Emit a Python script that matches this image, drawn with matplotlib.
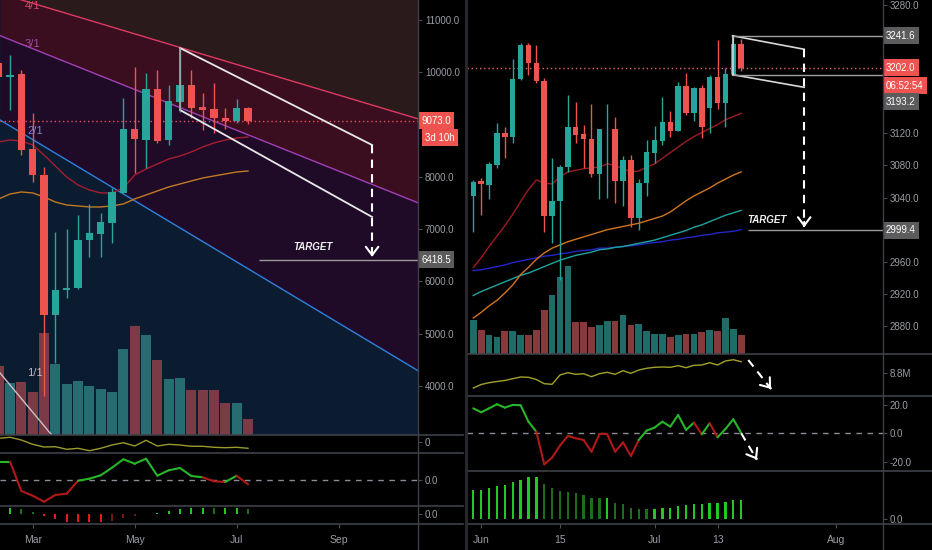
import numpy as np
import matplotlib
matplotlib.use("Agg")
import matplotlib.pyplot as plt
import matplotlib.transforms as mtransforms
from matplotlib.collections import LineCollection
from matplotlib.lines import Line2D

plt.rcParams['font.family'] = ['Liberation Sans', 'DejaVu Sans']

# ---------------- left chart : weekly candles ----------------
l_open = [10178, 9917, 9967, 8533, 8036, 5358, 5836, 5880, 6793, 6907, 7118, 7692,
          8916, 8705, 9680, 8705, 9432, 9757, 9336, 9298, 9126, 9068, 9317]
l_high = [10400, 10331, 10044, 9221, 8180, 6946, 7000, 7270, 7481, 7309, 7787, 9508,
          10101, 9986, 10044, 9757, 10464, 10044, 9604, 9795, 9317, 9489, 9336]
l_low = [9700, 9279, 8418, 7900, 3800, 4441, 5680, 5860, 6468, 6468, 6735, 7692,
         8074, 8170, 8648, 8610, 9241, 9126, 8896, 8839, 8915, 9030, 9010]
l_close = [9910, 9950, 8514, 8036, 5358, 5836, 5880, 6793, 6927, 7137, 7711, 8916,
           8724, 9680, 8686, 9451, 9757, 9317, 9279, 9126, 9068, 9317, 9073]
l_vol = [69, 52, 53, 43, 102, 71, 51, 54, 49, 46, 43, 86, 109, 100, 75, 56, 57, 45, 45, 45, 32, 32, 16]
l_ma_red = [8667, 8705, 8686, 8610, 8418, 8208, 7997, 7845, 7749, 7692, 7692, 7787,
            8036, 8150, 8246, 8342, 8399, 8476, 8571, 8648, 8705, 8743, 8762]
l_ma_orange = [7577, 7672, 7711, 7692, 7615, 7519, 7462, 7443, 7424, 7424, 7443, 7481,
               7577, 7653, 7730, 7806, 7864, 7921, 7978, 8017, 8055, 8093, 8112]
l_line1 = [3.4, 4.4, 1.7, -2.6, -5.3, -5.0, -7.6, -6.6, -9.0, -6.6, -3.3, -1.0,
           -4.3, 1.4, -4.3, -2.6, -3.3, -4.6, -4.6, -5.6, -6.0, -5.6, -6.6]
l_osc = [18.3, 18.3, -11, -15.7, -21.7, -15, -13.7, -0.7, 1.3, 4.7, 12.3, 20.7,
         16.3, 21.3, 4.3, 9.7, 12, 4, 2.7, -1.3, -2, 4.3, -4.3]
l_hist = [6, 6, 5, 2.7, -1.7, -4.7, -7.3, -7.3, -7.3, -8, -6.7, -4, -2, 0, 1, 3.3,
          5, 6, 6.7, 6, 6, 6.7, 5.7]
l_xticks = [3, 12, 21, 30]
l_xlabels = ['Mar', 'May', 'Jul', 'Sep']
l_yticks = [4000, 5000, 6000, 7000, 8000, 10000, 11000]
l_last = 9073.0
l_target = 6418.5
l_countdown = '3d 10h'
# gann fan: origin (bar, price), price per bar of the 1x1 line, ratios
fan_origin = (-37.1, 13926)
fan_unit = 260
fan_ratios = [4, 3, 2, 1]
fan_labels = ['4/1', '3/1', '2/1', '1/1']
fan_label_pos = [(2.3, 11370), (2.3, 10540), (2.5, 8880), (2.5, 4250)]
# drawn channel + target
l_chan_up = [(16, 10464), (32.95, 8609)]
l_chan_dn = [(16, 9279), (32.95, 7233)]
l_arrow = [(32.95, 8609), (32.95, 6470)]
l_target_from = 23.0
l_target_text = (27.7, 6660)

# ---------------- right chart : daily candles ----------------
r_open = [3042.0, 3060.7, 3055.7, 3080.6, 3120.9, 3115.9, 3187.8, 3230.2, 3207.3, 3185.7,
          3017.1, 3036.2, 3077.7, 3127.6, 3118.8, 3113.0, 3069.4, 3125.1, 3125.1, 3061.1,
          3086.9, 3014.2, 3057.8, 3096.0, 3111.0, 3134.6, 3123.4, 3179.5, 3145.8, 3176.2,
          3151.2, 3189.9, 3158.3, 3194.0, 3231.4]
r_high = [3062.0, 3064.0, 3084.8, 3132.5, 3128.4, 3212.7, 3233.1, 3233.1, 3230.2, 3188.6,
          3088.9, 3080.6, 3167.9, 3159.5, 3130.5, 3156.6, 3125.1, 3156.6, 3140.0, 3091.8,
          3093.1, 3062.8, 3111.8, 3129.2, 3165.8, 3148.3, 3184.5, 3194.9, 3177.4, 3180.3,
          3192.8, 3236.4, 3201.1, 3242.6, 3237.2]
r_low = [2997.6, 3018.3, 3037.8, 3076.5, 3089.0, 3108.5, 3186.5, 3192.8, 3182.4, 2997.6,
         2983.0, 2937.3, 3072.3, 3107.6, 3076.5, 3066.0, 3037.9, 3039.1, 3032.8, 3029.5,
         3003.8, 2999.6, 3042.0, 3082.7, 3105.5, 3115.1, 3123.4, 3143.0, 3135.9, 3113.9,
         3120.9, 3150.0, 3128.4, 3192.8, 3198.2]
r_close = [3059.9, 3056.5, 3081.5, 3120.9, 3115.9, 3187.8, 3230.2, 3207.3, 3185.7, 3017.1,
           3036.2, 3078.5, 3127.6, 3118.0, 3112.6, 3069.4, 3125.1, 3125.8, 3061.1, 3086.9,
           3014.2, 3057.8, 3097.2, 3111.8, 3134.6, 3123.4, 3179.5, 3145.8, 3176.2, 3128.4,
           3189.9, 3158.3, 3194.0, 3231.4, 3202.0]
r_vol = [34.3, 24.3, 18.6, 17, 23.3, 23.3, 18.6, 18.6, 24.3, 44.3, 59.3, 76.6, 87.6, 32,
         32, 27, 28.6, 33.3, 33.3, 38.6, 29.3, 30.3, 22.6, 20.3, 20.3, 16.6, 19.3, 20, 20,
         21.6, 24.3, 22.6, 36, 25.3, 19]
r_ma_red = [2953, 2965, 2979, 2992, 3005, 3019, 3035, 3050, 3062, 3058, 3057, 3066, 3072,
            3074, 3076, 3077, 3078, 3082, 3080, 3076, 3072, 3073, 3078, 3082, 3089, 3096,
            3103, 3110, 3116, 3121, 3126, 3131, 3137, 3141, 3145]
r_ma_orange = [2890, 2897, 2905, 2912, 2921, 2931, 2944, 2953, 2963, 2971, 2977, 2981,
               2985, 2988, 2991, 2994, 2997, 3000, 3002, 3004, 3006, 3008, 3011, 3014,
               3017, 3022, 3029, 3036, 3042, 3047, 3052, 3058, 3063, 3068, 3072]
r_ma_teal = [2918, 2923, 2927, 2931, 2935, 2939, 2943, 2946, 2950, 2954, 2958, 2962, 2965,
             2968, 2970, 2972, 2975, 2976, 2978, 2979, 2981, 2983, 2985, 2987, 2990, 2993,
             2996, 2999, 3003, 3006, 3010, 3014, 3018, 3021, 3024]
r_ma_blue = [2949, 2950, 2952, 2954, 2956, 2959, 2961, 2963, 2965, 2967, 2968, 2970, 2971,
             2973, 2974, 2975, 2977, 2977, 2978, 2979, 2980, 2981, 2983, 2984, 2985, 2987,
             2988, 2990, 2991, 2993, 2994, 2996, 2997, 2998, 3000]
r_line1 = [7.33, 7.68, 7.86, 7.98, 8.08, 8.26, 8.43, 8.40, 8.18, 7.76, 7.70, 8.63, 8.86,
           8.70, 8.76, 8.46, 8.76, 8.90, 8.70, 9.06, 8.80, 9.13, 9.30, 9.40, 9.43, 9.40,
           9.56, 9.36, 9.60, 9.63, 9.86, 9.63, 10.03, 10.16, 9.96]
r_osc = [17.6, 14.8, 17.6, 20.5, 18.1, 20.0, 19.8, 8.2, 1.1, -21.9, -17.2, -8.7, -1.9,
         -3.5, -4.7, -13.0, -0.7, -0.7, -13.0, -6.4, -16.0, -4.7, 1.9, 4.0, 8.2, 4.7,
         12.9, 2.4, 7.5, -0.7, 7.1, -2.8, 3.0, 9.9, 0.2]
r_hist = [29, 29, 30.7, 33.3, 34, 36.7, 39, 42.3, 42.3, 35, 30.7, 28, 26.7, 25.7, 24,
          21.3, 20.7, 20.7, 16.3, 14.7, 11.3, 10.3, 10.0, 10.2, 11.3, 11.5, 13.3, 14,
          15.3, 15.3, 16, 16, 17.3, 18.7, 18.7]
r_xticks = [1, 11, 23, 31, 46]
r_xlabels = ['Jun', '15', 'Jul', '13', 'Aug']
r_yticks = [2880, 2920, 2960, 3040, 3080, 3120, 3280]
r_last = 3202.0
r_countdown = '06:52:54'
r_chan_up = [(32.9, 3241.6), (42.0, 3224.8)]
r_chan_dn = [(32.9, 3193.2), (42.0, 3177.4)]
r_arrow = [(42.0, 3224.8), (42.0, 3003)]
r_target = 2999.4
r_target_from = 34.9
r_target_text = (37.3, 3012)
r_arrow1 = [(34.9, 10.13), (37.8, 7.23)]
r_arrow2 = [(34.0, 0.0), (36.0, -18.6)]

# ---------------- style ----------------
UP, DN = '#26a69a', '#ef5350'
TXT = '#9a9da5'
GRID = '#3e4049'
W, H = 932, 550

fig = plt.figure(figsize=(W / 100, H / 100), dpi=100, facecolor='black')


def add_ax(x0, y0, x1, y1):
    return fig.add_axes([x0 / W, 1 - y1 / H, (x1 - x0) / W, (y1 - y0) / H])


def style(ax, xlim, ylim, yticks, ylabels, face='black'):
    ax.set_facecolor(face)
    ax.set_xlim(xlim)
    ax.set_ylim(ylim)
    for s in ax.spines.values():
        s.set_visible(False)
    ax.yaxis.tick_right()
    ax.set_yticks(yticks)
    ax.set_yticklabels(ylabels)
    ax.tick_params(axis='y', length=3, width=0.8, color='#4a4d55', labelcolor=TXT,
                   labelsize=7, pad=2)
    ax.tick_params(axis='x', bottom=False, labelbottom=False)


def bottom_ticks(ax, ticks, labels):
    ax.set_xticks(ticks)
    ax.set_xticklabels(labels)
    ax.tick_params(axis='x', bottom=True, labelbottom=True, length=3, width=0.8,
                   color='#4a4d55', labelcolor=TXT, labelsize=7.5, pad=5)


def candles(ax, o, h, l, c, width):
    o, h, l, c = map(np.asarray, (o, h, l, c))
    x = np.arange(len(o))
    cols = np.where(c >= o, UP, DN)
    ax.vlines(x, l, h, colors=cols, lw=1, zorder=5)
    body = np.maximum(np.abs(c - o), (h.max() - l.min()) * 0.002)
    ax.bar(x, body, bottom=np.minimum(o, c), width=width, color=cols, zorder=6)


def volume(ax, o, c, vol, span, width, up, dn):
    trans = mtransforms.blended_transform_factory(ax.transData, ax.transAxes)
    cols = [up if cc >= oo else dn for oo, cc in zip(o, c)]
    ax.bar(np.arange(len(vol)), np.asarray(vol) / span, width=width, bottom=0,
           color=cols, transform=trans, zorder=2)


def sign_line(ax, vals, up, dn, lw=1.5):
    y = np.asarray(vals, float)
    x = np.arange(len(y))
    segs = np.stack([np.column_stack([x[:-1], y[:-1]]), np.column_stack([x[1:], y[1:]])], axis=1)
    cols = [up if v >= 0 else dn for v in y[1:]]
    ax.add_collection(LineCollection(segs, colors=cols, linewidths=lw, capstyle='round', zorder=3))


def hist_bars(ax, vals, width):
    cols = []
    for k, v in enumerate(vals):
        prev = vals[k - 1] if k else v
        if v >= 0:
            cols.append('#22c922' if v >= prev else '#1c6e1c')
        else:
            cols.append('#e01b1b' if v <= prev else '#7a1515')
    ax.bar(np.arange(len(vals)), vals, width=width, color=cols, zorder=3)


def tag(ax, value, text, fc, dx=3, dy=0):
    ax.annotate(text, xy=(1, value), xycoords=('axes fraction', 'data'),
                xytext=(dx, dy), textcoords='offset pixels', ha='left', va='center',
                fontsize=7, color='white', zorder=20, annotation_clip=False,
                bbox=dict(boxstyle='square,pad=0.35', fc=fc, ec='none'))


def dashed_arrow(ax, start, tip):
    ax.plot([start[0], tip[0]], [start[1], tip[1]], color='white', lw=1.5,
            ls=(0, (4, 3)), zorder=9, clip_on=False)
    pre = (tip[0] - (tip[0] - start[0]) * 0.03, tip[1] - (tip[1] - start[1]) * 0.03)
    ax.annotate('', xy=tip, xytext=pre, annotation_clip=False, zorder=9,
                arrowprops=dict(arrowstyle='->,head_length=0.6,head_width=0.45',
                                color='white', lw=1.5, shrinkA=0, shrinkB=0))


# ================= LEFT =================
l_xlim = (0.117, 37.0)
l_ylim = (3063, 11382)
axL = add_ax(0, 0, 418, 435)
style(axL, l_xlim, l_ylim, l_yticks, ['%.1f' % v for v in l_yticks], face='#0b1b30')

# gann fan backgrounds + lines
fx = np.array(l_xlim)
fan = [fan_origin[1] - fan_unit / r * (fx - fan_origin[0]) for r in fan_ratios]
axL.fill_between(fx, fan[0], l_ylim[1] + 5000, color='#2b1a1c', zorder=0.5, lw=0)
axL.fill_between(fx, fan[1], fan[0], color='#3a0e1e', zorder=0.5, lw=0)
axL.fill_between(fx, fan[2], fan[1], color='#1f0b28', zorder=0.5, lw=0)
fan_cols = ['#dc3a62', '#a23fb4', '#2f7fdc', '#d0c0c8']
for line, col in zip(fan, fan_cols):
    axL.plot(fx, line, color=col, lw=1, zorder=3)
for lab, pos, col in zip(fan_labels, fan_label_pos, ['#d9456d', '#a24aa8', '#6f86d8', '#cdbdc5']):
    axL.text(pos[0], pos[1], lab, color=col, fontsize=8, ha='left',
             va='top' if lab == '4/1' else 'center', zorder=3, clip_on=True)

volume(axL, l_open, l_close, l_vol, 435, 0.88, '#266c70', '#7a3a46')
xl = np.arange(len(l_close))
axL.plot(xl, l_ma_red, color='#a81c30', lw=1, zorder=4)
axL.plot(xl, l_ma_orange, color='#c27a22', lw=1, zorder=4)
candles(axL, l_open, l_high, l_low, l_close, 0.62)
axL.axhline(l_last, color='#e8505a', lw=1, ls=(0, (1, 2)), zorder=4)

# drawn channel / target
axL.plot(*zip(*l_chan_up), color='#e8e8e8', lw=1.3, zorder=8)
axL.plot(*zip(*l_chan_dn), color='#e8e8e8', lw=1.3, zorder=8)
axL.plot([l_chan_up[0][0], l_chan_dn[0][0]], [l_chan_up[0][1], l_chan_dn[0][1]],
         color='#a8a8a8', lw=1.2, zorder=8)
dashed_arrow(axL, *l_arrow)
axL.hlines(l_target, l_target_from, l_xlim[1], color='#9a9a9a', lw=1, zorder=8)
axL.text(*l_target_text, 'TARGET', color='#f2f2f2', fontsize=7, style='italic',
         fontweight='bold', ha='center', va='center', zorder=9)
tag(axL, l_last, '%.1f' % l_last, '#ef5350')
tag(axL, l_last, l_countdown, '#ef5350', dx=7, dy=-17)
tag(axL, l_target, '%.1f' % l_target, '#5c5c5c')

axL1 = add_ax(0, 435, 418, 452)
style(axL1, l_xlim, (-10.3, 6.7), [0], ['0'])
axL1.plot(xl, l_line1, color='#9a9a2c', lw=1)

axL2 = add_ax(0, 452, 418, 505)
style(axL2, l_xlim, (-25, 28), [0], ['0.0'])
axL2.axhline(0, color='#8a8d95', lw=1, ls=(0, (4, 4)))
sign_line(axL2, l_osc, '#27b627', '#b31818')

axL3 = add_ax(0, 505, 418, 524)
style(axL3, l_xlim, (-9.7, 9.3), [0], ['0.0'])
hist_bars(axL3, l_hist, 0.2)
bottom_ticks(axL3, l_xticks, l_xlabels)

# ================= RIGHT =================
r_xlim = (-0.8, 52.0)
r_ylim = (2845.1, 3286.2)
axR = add_ax(467, 0, 883, 354)
style(axR, r_xlim, r_ylim, r_yticks, ['%.1f' % v for v in r_yticks])
xr = np.arange(len(r_close))
volume(axR, r_open, r_close, r_vol, 354, 0.85, '#1f6b67', '#873a3c')
axR.plot(xr, r_ma_blue, color='#2326c8', lw=1, zorder=4)
axR.plot(xr, r_ma_teal, color='#1fa5a0', lw=1, zorder=4)
axR.plot(xr, r_ma_orange, color='#d0761f', lw=1, zorder=4)
axR.plot(xr, r_ma_red, color='#9e1b22', lw=1, zorder=4)
candles(axR, r_open, r_high, r_low, r_close, 0.7)
axR.axhline(r_last, color='#e8686f', lw=1, ls=(0, (1, 2)), zorder=4)

axR.plot(*zip(*r_chan_up), color='#d8d8d8', lw=1.2, zorder=8)
axR.plot(*zip(*r_chan_dn), color='#d8d8d8', lw=1.2, zorder=8)
axR.plot([r_chan_up[0][0], r_chan_dn[0][0]], [r_chan_up[0][1], r_chan_dn[0][1]],
         color='#d8d8d8', lw=1.2, zorder=8)
axR.hlines([r_chan_up[0][1], r_chan_dn[0][1]], r_chan_up[0][0], r_xlim[1],
           color='#a0a0a0', lw=1, zorder=8)
dashed_arrow(axR, *r_arrow)
axR.hlines(r_target, r_target_from, r_xlim[1], color='#9a9a9a', lw=1, zorder=8)
axR.text(*r_target_text, 'TARGET', color='#f2f2f2', fontsize=7, style='italic',
         fontweight='bold', ha='center', va='center', zorder=9)
tag(axR, r_chan_up[0][1], '%.1f' % r_chan_up[0][1], '#5c5c5c')
tag(axR, r_last, '%.1f' % r_last, '#ef5350')
tag(axR, r_last, r_countdown, '#ef5350', dy=-18)
tag(axR, r_chan_dn[0][1], '%.1f' % r_chan_dn[0][1], '#5c5c5c', dy=-27)
tag(axR, r_target, '%.1f' % r_target, '#5c5c5c')

axR1 = add_ax(467, 354, 883, 396)
style(axR1, r_xlim, (6.53, 10.73), [8.8], ['8.8M'])
axR1.plot(xr, r_line1, color='#a3a12a', lw=1)
dashed_arrow(axR1, *r_arrow1)

axR2 = add_ax(467, 396, 883, 471)
style(axR2, r_xlim, (-26.6, 26.3), [20, 0, -20], ['20.0', '0.0', '-20.0'])
axR2.axhline(0, color='#8a8d95', lw=1, ls=(0, (4, 4)))
sign_line(axR2, r_osc, '#27b627', '#b31818')
dashed_arrow(axR2, *r_arrow2)

axR3 = add_ax(467, 471, 883, 524)
style(axR3, r_xlim, (-5, 48), [0], ['0.0'])
hist_bars(axR3, r_hist, 0.3)
bottom_ticks(axR3, r_xticks, r_xlabels)

# panel separators / axis lines
for y in [435, 452.5, 505.5, 524]:
    fig.add_artist(Line2D([0, 463 / W], [1 - y / H] * 2, color=GRID, lw=1.2))
for y in [354.3, 396, 471, 524]:
    fig.add_artist(Line2D([467 / W, 1], [1 - y / H] * 2, color=GRID, lw=1.2))
for x in [418, 883]:
    fig.add_artist(Line2D([x / W] * 2, [0, 1], color=GRID, lw=1))
fig.add_artist(Line2D([465.5 / W] * 2, [0, 1], color='#2a2b30', lw=2))

fig.savefig('out.png', dpi=100, facecolor='black')
